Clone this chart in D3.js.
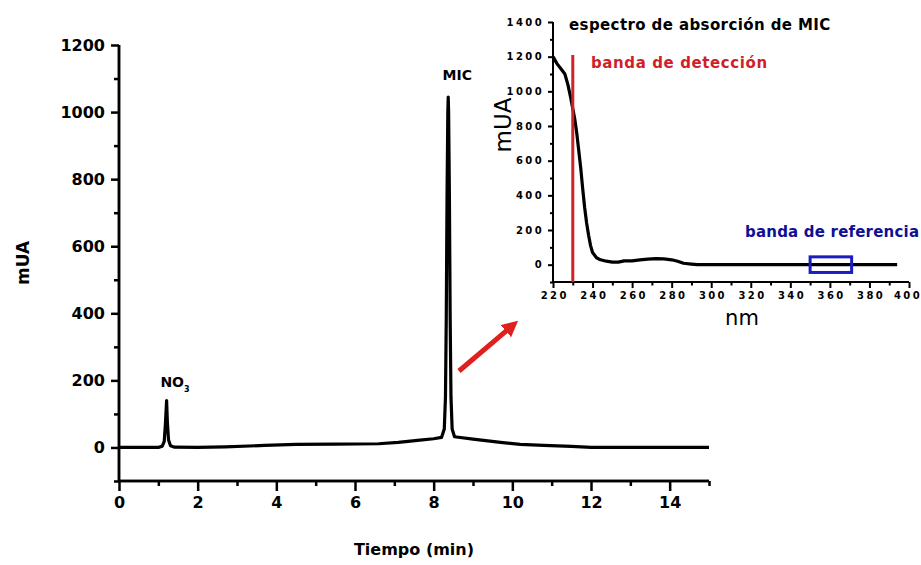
<!DOCTYPE html>
<html>
<head>
<meta charset="utf-8">
<script src="https://cdn.jsdelivr.net/npm/d3@7"></script>
<style>
  html, body { margin: 0; padding: 0; background: #fff; }
  svg { display: block; }
  text { font-family: "DejaVu Sans", Verdana, sans-serif; }
</style>
</head>
<body>
<svg id="chart" width="921" height="565"></svg>
<script>
// ---- Main chromatogram data (time in min, absorbance in mUA) ----
const chromTime = [0, 1.0, 1.10, 1.15, 1.18, 1.21, 1.23, 1.26, 1.31, 1.4, 2.0, 2.7, 3.7, 4.5, 5.5, 6.6, 7.1, 7.65, 8.0, 8.2, 8.27, 8.30, 8.32, 8.34, 8.36, 8.37, 8.38, 8.40, 8.42, 8.44, 8.47, 8.53, 9.0, 9.7, 10.2, 10.8, 11.5, 12.0, 15.0];
const chromAbs  = [0, 0, 4, 18, 70, 140, 75, 22, 5, 1, 0, 2, 6, 9, 10, 11, 15, 22, 26, 30, 55, 150, 380, 750, 1000, 1045, 1000, 750, 380, 150, 55, 32, 25, 15, 9, 6, 3, 0, 0];

// ---- Inset: absorption spectrum of MIC (wavelength nm, mUA) ----
const specWl  = [220, 222, 224, 226, 227.5, 229, 230, 231, 232, 233, 234, 235, 236, 237, 238, 239, 240, 242, 244, 247, 250, 253, 256, 260, 264, 268, 272, 276, 280, 283, 286, 290, 293, 300, 320, 350, 380, 394];
const specAbs = [1200, 1160, 1130, 1100, 1040, 960, 900, 840, 760, 660, 560, 440, 330, 240, 170, 110, 70, 40, 28, 20, 15, 15, 22, 22, 28, 32, 35, 33, 28, 20, 8, 3, 0, 0, 0, 0, 0, 0];

// ---- Ticks ----
const mainXTicks = [0, 2, 4, 6, 8, 10, 12, 14];
const mainXMinor = [1, 3, 5, 7, 9, 11, 13, 15];
const mainYTicks = [0, 200, 400, 600, 800, 1000, 1200];
const mainYMinor = [-100, 100, 300, 500, 700, 900, 1100];
const insetXTicks = [220, 240, 260, 280, 300, 320, 340, 360, 380, 400];
const insetXMinor = [230, 250, 270, 290, 310, 330, 350, 370, 390];
const insetYTicks = [0, 200, 400, 600, 800, 1000, 1200, 1400];
const insetYMinor = [-100, 100, 300, 500, 700, 900, 1100, 1300];

// ---- Annotations ----
const detectionBand = 230;          // nm
const referenceBand = [350, 371];   // nm
const referenceHalfHeight = 45;     // mUA

const svg = d3.select("#chart");

// ================= MAIN CHART =================
const x = d3.scaleLinear().domain([0, 15]).range([119, 709]);
const y = d3.scaleLinear().domain([-100, 1200]).range([481, 45]);

// X axis
const gx = svg.append("g").attr("transform", `translate(0,${y(-100)})`);
gx.call(d3.axisBottom(x).tickValues(mainXTicks).tickSize(10).tickPadding(6).tickFormat(d3.format("d")));
const gxm = svg.append("g").attr("transform", `translate(0,${y(-100)})`);
gxm.call(d3.axisBottom(x).tickValues(mainXMinor).tickSize(5).tickFormat(""));
[gx, gxm].forEach(g => {
  g.select(".domain").attr("stroke", "#000").attr("stroke-width", 2.5).attr("d", `M${x(0)},0H${x(15)}`);
  g.selectAll(".tick line").attr("stroke", "#000").attr("stroke-width", 2.5);
});
gx.selectAll(".tick text").attr("font-size", 16).attr("font-weight", "bold").attr("fill", "#000")
  .attr("font-family", "DejaVu Sans, sans-serif");

// Y axis
const gy = svg.append("g").attr("transform", `translate(${x(0)},0)`);
gy.call(d3.axisLeft(y).tickValues(mainYTicks).tickSize(8).tickPadding(6).tickFormat(d3.format("d")));
const gym = svg.append("g").attr("transform", `translate(${x(0)},0)`);
gym.call(d3.axisLeft(y).tickValues(mainYMinor).tickSize(5).tickFormat(""));
[gy, gym].forEach(g => {
  g.select(".domain").attr("stroke", "#000").attr("stroke-width", 2.5).attr("d", `M0,${y(-100)}V${y(1200)}`);
  g.selectAll(".tick line").attr("stroke", "#000").attr("stroke-width", 2.5);
});
gy.selectAll(".tick text").attr("font-size", 16).attr("font-weight", "bold").attr("fill", "#000")
  .attr("font-family", "DejaVu Sans, sans-serif");

// Axis titles
svg.append("text").attr("x", 414).attr("y", 555).attr("text-anchor", "middle")
  .attr("font-size", 16).attr("font-weight", "bold").text("Tiempo (min)");
svg.append("text").attr("transform", "translate(29,263) rotate(-90)").attr("text-anchor", "middle")
  .attr("font-size", 17).attr("font-weight", "bold").text("mUA");

// Chromatogram line
const chromData = chromTime.map((t, i) => [t, chromAbs[i]]);
svg.append("path").datum(chromData)
  .attr("fill", "none").attr("stroke", "#000").attr("stroke-width", 3.2).attr("stroke-linejoin", "round")
  .attr("d", d3.line().x(d => x(d[0])).y(d => y(d[1])));

// Peak labels
svg.append("text").attr("x", x(8.37) + 9).attr("y", 80).attr("text-anchor", "middle")
  .attr("font-size", 14).attr("font-weight", "bold").text("MIC");
const no3 = svg.append("text").attr("x", 175).attr("y", 387).attr("text-anchor", "middle")
  .attr("font-size", 14).attr("font-weight", "bold");
no3.append("tspan").text("NO");
no3.append("tspan").attr("font-size", 8).attr("dy", 5).text("3");

// Red arrow
const defs = svg.append("defs");
defs.append("marker").attr("id", "arrowhead").attr("viewBox", "0 0 10 10")
  .attr("refX", 5).attr("refY", 5).attr("markerWidth", 3.2).attr("markerHeight", 3.2)
  .attr("orient", "auto").attr("markerUnits", "strokeWidth")
  .append("path").attr("d", "M0,0L10,5L0,10Z").attr("fill", "#e0201c");
svg.append("line").attr("x1", 459).attr("y1", 371).attr("x2", 512).attr("y2", 326)
  .attr("stroke", "#e0201c").attr("stroke-width", 5).attr("marker-end", "url(#arrowhead)");

// ================= INSET =================
const ix = d3.scaleLinear().domain([220, 400]).range([553, 909]);
const iy = d3.scaleLinear().domain([-100, 1400]).range([282, 22]);

const igx = svg.append("g").attr("transform", `translate(0,${iy(-100)})`);
igx.call(d3.axisBottom(ix).tickValues(insetXTicks).tickSize(6).tickPadding(4).tickFormat(d3.format("d")));
const igxm = svg.append("g").attr("transform", `translate(0,${iy(-100)})`);
igxm.call(d3.axisBottom(ix).tickValues(insetXMinor).tickSize(3.5).tickFormat(""));
[igx, igxm].forEach(g => {
  g.select(".domain").attr("stroke", "#000").attr("stroke-width", 2).attr("d", `M${ix(220)},0H${ix(400)}`);
  g.selectAll(".tick line").attr("stroke", "#000").attr("stroke-width", 2);
});
igx.selectAll(".tick text").attr("font-size", 10).attr("font-weight", "bold").attr("fill", "#000")
  .attr("font-family", "Liberation Serif, serif").attr("letter-spacing", "2.4px")
  .attr("dx", d => d === 400 ? "-1.5px" : "1.2px");

const igy = svg.append("g").attr("transform", `translate(${ix(220)},0)`);
igy.call(d3.axisLeft(iy).tickValues(insetYTicks).tickSize(5).tickPadding(4).tickFormat(d3.format("d")));
const igym = svg.append("g").attr("transform", `translate(${ix(220)},0)`);
igym.call(d3.axisLeft(iy).tickValues(insetYMinor).tickSize(3).tickFormat(""));
[igy, igym].forEach(g => {
  g.select(".domain").attr("stroke", "#000").attr("stroke-width", 2).attr("d", `M0,${iy(-100)}V${iy(1400)}`);
  g.selectAll(".tick line").attr("stroke", "#000").attr("stroke-width", 2);
});
igy.selectAll(".tick text").attr("font-size", 10).attr("font-weight", "bold").attr("fill", "#000")
  .attr("font-family", "Liberation Serif, serif").attr("letter-spacing", "2.4px");

// Inset axis titles
svg.append("text").attr("x", 742).attr("y", 325).attr("text-anchor", "middle")
  .attr("font-size", 21).text("nm");
svg.append("text").attr("transform", "translate(511,125) rotate(-90)").attr("text-anchor", "middle")
  .attr("font-size", 23).text("mUA");

// Inset title
svg.append("text").attr("x", 569).attr("y", 30).attr("font-size", 15).attr("font-weight", "bold")
  .attr("letter-spacing", "0.4px").text("espectro de absorción de MIC");

// Spectrum line
const specData = specWl.map((w, i) => [w, specAbs[i]]);
svg.append("path").datum(specData)
  .attr("fill", "none").attr("stroke", "#000").attr("stroke-width", 3.2).attr("stroke-linejoin", "round")
  .attr("d", d3.line().x(d => ix(d[0])).y(d => iy(d[1])));

// Detection band (red)
svg.append("line").attr("x1", ix(detectionBand)).attr("x2", ix(detectionBand))
  .attr("y1", 55).attr("y2", iy(-100))
  .attr("stroke", "#d42027").attr("stroke-width", 3);
svg.append("text").attr("x", 591).attr("y", 68).attr("font-size", 15).attr("font-weight", "bold")
  .attr("letter-spacing", "0.6px").attr("fill", "#cf1f2a").text("banda de detección");

// Reference band (blue)
svg.append("rect").attr("x", ix(referenceBand[0])).attr("y", iy(referenceHalfHeight))
  .attr("width", ix(referenceBand[1]) - ix(referenceBand[0]))
  .attr("height", iy(-referenceHalfHeight) - iy(referenceHalfHeight))
  .attr("fill", "none").attr("stroke", "#1c1cc0").attr("stroke-width", 3);
svg.append("text").attr("x", 745).attr("y", 237).attr("font-size", 15).attr("font-weight", "bold")
  .attr("letter-spacing", "0.2px").attr("fill", "#0f0f95").text("banda de referencia");
</script>
</body>
</html>
